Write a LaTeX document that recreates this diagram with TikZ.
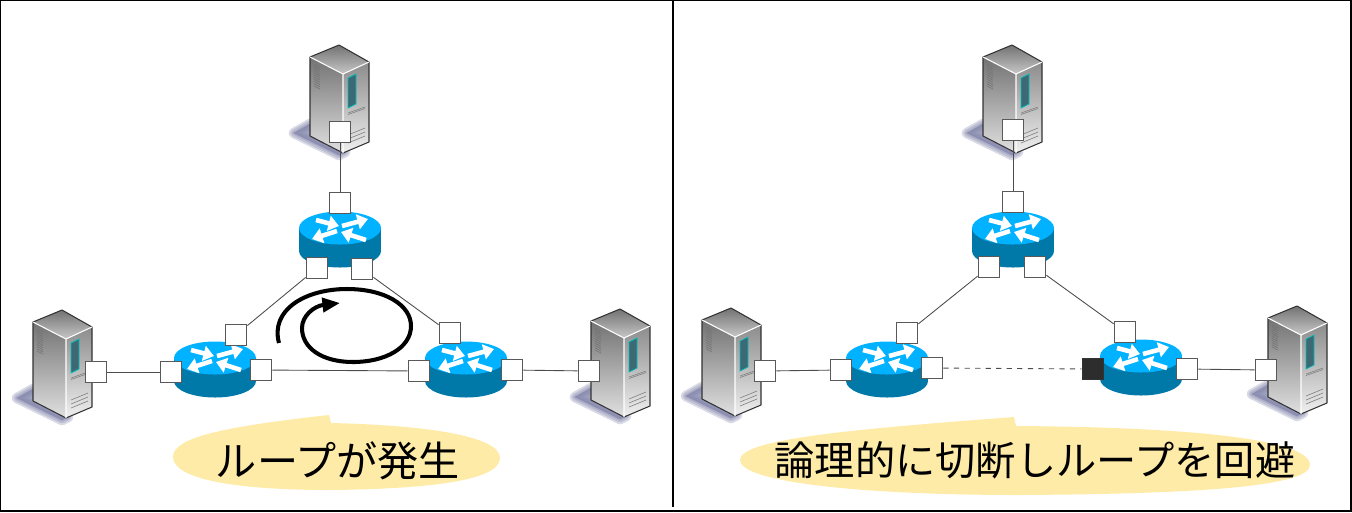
\documentclass[tikz,border=0pt]{standalone}
\usepackage{fontspec}
\newfontfamily\jpfont{Noto Sans CJK JP}
\usetikzlibrary{arrows.meta}

\definecolor{routertop}{RGB}{0,178,255}
\definecolor{routerside}{RGB}{0,120,168}
\definecolor{bubblefill}{RGB}{255,235,168}
\definecolor{shadowblue}{RGB}{130,133,170}
\definecolor{portblack}{RGB}{45,45,45}
\definecolor{windowteal}{RGB}{60,105,115}

\tikzset{
  port/.style={draw=black!65, fill=white, line width=0.6pt, minimum size=12.4pt, inner sep=0pt},
  blockedport/.style={port, draw=black!80, fill=portblack},
  link/.style={draw=black!70, line width=0.5pt},
  whitearrow/.style={white, line width=2.6pt, -{Triangle[length=6pt,width=8.5pt]}},
  saying/.style={font=\jpfont\fontsize{23.4}{27}\selectfont, inner sep=0pt},
  sayinglong/.style={font=\jpfont\fontsize{22.9}{27}\selectfont, inner sep=0pt},
  serverpic/.pic={
    % shadow
    \foreach \w in {6,4,2,0.5} {
      \filldraw[shadowblue, opacity=0.3, line width=\w pt, line join=round]
        (-29,79) -- (-45,88) -- (0,110) -- (6,107) -- cycle;
    }
    % faces
    \shade[top color=black!55, bottom color=black!22] (0,0) -- (30,17) -- (4,29) -- (-29,12) -- cycle;
    \shade[shading angle=35, top color=black!55, bottom color=black!12] (-29,12) -- (4,29) -- (4,108) -- (-29,91) -- cycle;
    \shade[shading angle=20, top color=black!45, bottom color=black!6] (4,29) -- (30,17) -- (30,97) -- (4,108) -- cycle;
    \draw[black!80, line width=0.6pt, line join=round] (0,0) -- (30,17) -- (30,97) -- (4,108) -- (-29,91) -- (-29,12) -- cycle;
    \draw[white, line width=0.6pt] (-29,12) -- (4,29) -- (30,17) (4,29) -- (4,108);
    % vent
    \foreach \i in {0,...,10} {
      \draw[black!55, line width=0.35pt] (-25,{19+\i*2.2}) -- (-19,{22+\i*2.2});
    }
    % window
    \fill[windowteal, draw=teal!50!cyan, line width=0.4pt] (9,33) -- (17,29) -- (17,59) -- (9,63) -- cycle;
    % stripes
    \foreach \i in {0,1} {
      \draw[black!50, line width=0.35pt] (9,{68+\i*1.5}) -- (26,{62+\i*1.5});
    }
    \foreach \i in {0,1,2} {
      \draw[black!50, line width=0.35pt] (9,{90+\i*4}) -- (26,{83+\i*4});
    }
  },
  routerpic/.pic={
    \fill[routerside] (0,23) ellipse [x radius=41, y radius=16.5];
    \fill[routerside] (-41,0) rectangle (41,23);
    \fill[routertop] (0,0) ellipse [x radius=41, y radius=16.5];
    \draw[whitearrow] (-24,-8) -- (-1,-2);
    \draw[whitearrow] (2,-2) -- (28,-9);
    \draw[whitearrow] (-3,3) -- (-28,11);
    \draw[whitearrow] (26,12) -- (1,4);
  }
}

\begin{document}
\begin{tikzpicture}[x=0.02cm, y=-0.02cm]

  \useasboundingbox (0,0) rectangle (1352,512);

  % frame
  \draw[black, line width=0.6pt] (0.5,0.5) rectangle (1351,511);
  \draw[black, line width=0.6pt] (673,0) -- (673,507);

  % bubbles
  \fill[bubblefill] (173,457) .. controls (173,438) and (220,427) .. (329,415)
    -- (331,423) .. controls (420,425) and (500,435) .. (500,458)
    .. controls (500,482) and (420,489) .. (330,490)
    .. controls (230,490) and (173,478) .. (173,457) -- cycle;
  \fill[bubblefill] (740,460) .. controls (740,440) and (840,430) .. (1014,417)
    -- (1016,426) .. controls (1180,427) and (1310,438) .. (1310,465)
    .. controls (1310,488) and (1180,494) .. (1020,495)
    .. controls (860,495) and (740,482) .. (740,460) -- cycle;
  \node[saying] (sayloop) at (338,461) {ループが発生};
  \node[sayinglong] (sayavoid) at (1035,460) {論理的に切断しループを回避};

  % left panel
  \pic at (339,45) {serverpic};
  \pic at (62,310) {serverpic};
  \pic at (620,309) {serverpic};
  \pic at (340,228) {routerpic};
  \pic at (215,358) {routerpic};
  \pic at (466,358) {routerpic};

  \node[port] (topserver) at (340,132) {};
  \node[port] (topup) at (340,203) {};
  \node[port] (topleft) at (317,268) {};
  \node[port] (topright) at (362,269) {};
  \node[port] (leftserver) at (96,372) {};
  \node[port] (leftout) at (171,372) {};
  \node[port] (leftup) at (236,335) {};
  \node[port] (leftin) at (261,370) {};
  \node[port] (rightin) at (419,371) {};
  \node[port] (rightup) at (450,333) {};
  \node[port] (rightout) at (512,370) {};
  \node[port] (rightserver) at (589,371) {};

  \draw[link] (topserver) -- (topup);
  \draw[link] (topleft) -- (leftup);
  \draw[link] (topright) -- (rightup);
  \draw[link] (leftserver) -- (leftout);
  \draw[link] (leftin) -- (rightin);
  \draw[link] (rightout) -- (rightserver);

  % loop
  \draw[black, line width=2.3pt, -{Triangle[length=10pt,width=8pt]}]
    (279,343) .. controls (270,310) and (305,289) .. (347,289)
    .. controls (385,289) and (411,305) .. (411,326)
    .. controls (411,348) and (385,362) .. (353,362)
    .. controls (322,362) and (302,348) .. (302,328)
    .. controls (302,316) and (314,306) .. (340,303);

  % right panel
  \pic at (1012,45) {serverpic};
  \pic at (731,308) {serverpic};
  \pic at (1297,306) {serverpic};
  \pic at (1013,228) {routerpic};
  \pic at (887,358) {routerpic};
  \pic at (1141,356) {routerpic};

  \node[port] (topserverb) at (1013,130) {};
  \node[port] (topupb) at (1013,202) {};
  \node[port] (topleftb) at (989,267) {};
  \node[port] (toprightb) at (1035,267) {};
  \node[port] (leftserverb) at (765,371) {};
  \node[port] (leftoutb) at (841,370) {};
  \node[port] (leftupb) at (907,333) {};
  \node[port] (leftinb) at (932,368) {};
  \node[blockedport] (rightinb) at (1093,369) {};
  \node[port] (rightupb) at (1125,332) {};
  \node[port] (rightoutb) at (1187,369) {};
  \node[port] (rightserverb) at (1266,370) {};

  \draw[link] (topserverb) -- (topupb);
  \draw[link] (topleftb) -- (leftupb);
  \draw[link] (toprightb) -- (rightupb);
  \draw[link] (leftserverb) -- (leftoutb);
  \draw[link, dashed] (leftinb) -- (rightinb);
  \draw[link] (rightoutb) -- (rightserverb);

\end{tikzpicture}
\end{document}
